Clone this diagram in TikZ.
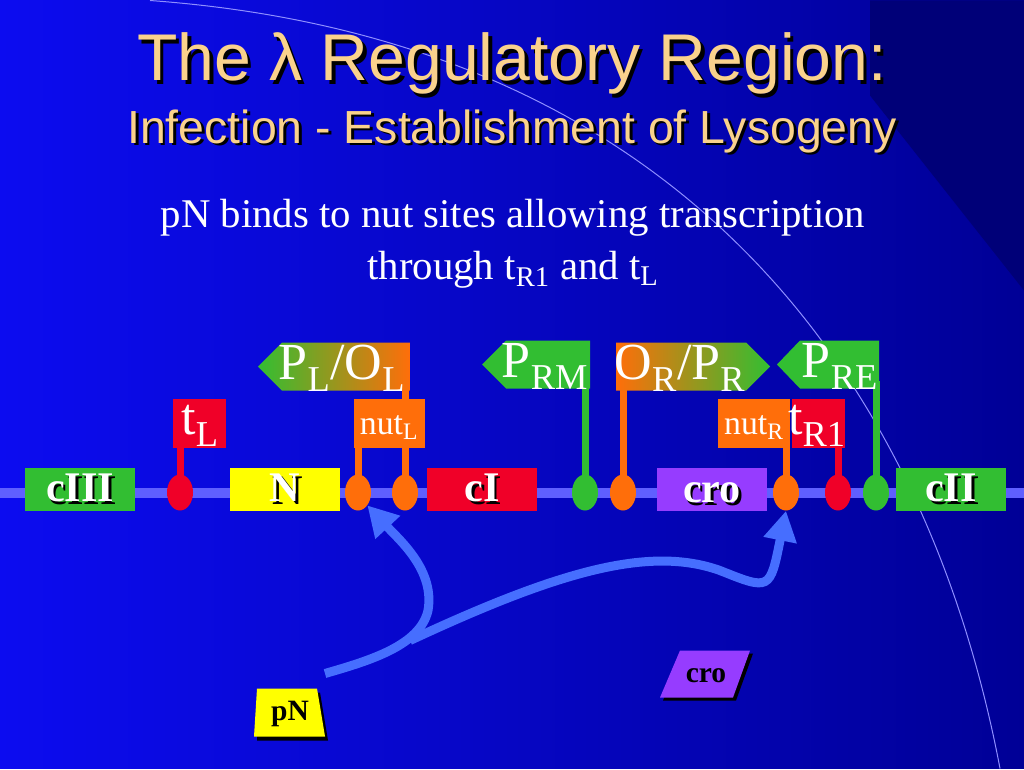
\documentclass[tikz,border=0pt]{standalone}
\usepackage{fontspec}
\setmainfont{Liberation Serif}
\newfontfamily\titlefont{Liberation Sans}
\usetikzlibrary{positioning,calc,arrows.meta,shapes.geometric}
\definecolor{bgblue}{RGB}{12,12,240}
\definecolor{bgnavy}{RGB}{0,0,150}
\definecolor{dnablue}{RGB}{95,95,255}
\definecolor{arrblue}{RGB}{70,110,255}
\definecolor{gengreen}{RGB}{50,190,50}
\definecolor{genred}{RGB}{240,0,40}
\definecolor{genorange}{RGB}{255,110,10}
\definecolor{genyellow}{RGB}{255,255,0}
\definecolor{genpurple}{RGB}{150,60,255}
\definecolor{titletan}{RGB}{250,210,140}
\newlength{\px}\setlength{\px}{0.025cm}
\tikzset{
  gene/.style={minimum width=110\px, minimum height=43\px, inner sep=0pt,
    font=\fontsize{30}{30}\selectfont\bfseries, text=white},
  site/.style={ellipse, minimum width=26\px, minimum height=36\px, inner sep=0pt},
  tag/.style={inner sep=0pt, text=white, font=\fontsize{37}{37}\selectfont},
  smalltag/.style={inner sep=0pt, text=white, font=\fontsize{24}{24}\selectfont},
  stem/.style={line width=7\px},
  pNarrow/.style={draw=arrblue, line width=9\px, -{Triangle[length=0.75cm,width=0.8cm]}},
}
\newcommand{\shadowtext}[3]{% colour, shadow offset, text
  \makebox[0pt][l]{\raisebox{-#2}{\hspace*{#2}\textcolor{black}{#3}}}\textcolor{#1}{#3}}
\begin{document}
\begin{tikzpicture}[x=0.025cm, y=-0.025cm]
% background
\shade[left color=bgblue, right color=bgnavy] (0,0) rectangle (1024,768);
\fill[bgnavy!80!black] (1024,290) -- (870,95) -- (870,0) -- (1024,0) -- cycle;
\draw[dnablue!70, line width=1\px] (150,0) .. controls (700,40) and (930,400) .. (1000,768);
\useasboundingbox (0,0) rectangle (1024,768);

% titles
\node[font=\titlefont\fontsize{47}{47}\selectfont] (title) at (512,65)
  {\shadowtext{titletan}{2.5pt}{The λ Regulatory Region:}};
\node[font=\titlefont\fontsize{33}{33}\selectfont] (subtitle) at (512,132)
  {\shadowtext{titletan}{2pt}{Infection - Establishment of Lysogeny}};
\node[text=white, align=center, font=\fontsize{29}{37}\selectfont] (caption) at (513,243)
  {pN binds to nut sites allowing transcription\\through t\textsubscript{R1} and t\textsubscript{L}};

% DNA
\draw[dnablue, line width=10\px] (0,492) -- (1024,492);

% genes
\node[gene, fill=gengreen] (cIII) at (80,489) {\shadowtext{white}{2pt}{cIII}};
\node[gene, fill=genyellow] (N) at (285,489) {\shadowtext{white}{2pt}{N}};
\node[gene, fill=genred] (cI) at (482,489) {\shadowtext{white}{2pt}{cI}};
\fill[genpurple] (657,467) rectangle (767,510);
\node[inner sep=0pt, font=\fontsize{30}{30}\selectfont\bfseries] (cro) at (712,494)
  {\shadowtext{white}{2pt}{cro}};
\node[gene, fill=gengreen] (cII) at (951,489) {\shadowtext{white}{2pt}{cII}};

% stems
\draw[stem, genred] (180,492) -- (180,440);
\draw[stem, genorange] (358,492) -- (358,440);
\draw[stem, genorange] (405,492) -- (405,385);
\draw[stem, gengreen] (585,492) -- (585,380);
\draw[stem, genorange] (623,492) -- (623,380);
\draw[stem, genorange] (786,492) -- (786,440);
\draw[stem, genred] (838,492) -- (838,440);
\draw[stem, gengreen] (876,492) -- (876,380);

% sites
\node[site, fill=genred] (tLsite) at (180,492) {};
\node[site, fill=genorange] (nutLa) at (358,492) {};
\node[site, fill=genorange] (nutLb) at (405,492) {};
\node[site, fill=gengreen] (PRMsite) at (585,492) {};
\node[site, fill=genorange] (ORsite) at (623,492) {};
\node[site, fill=genorange] (nutRsite) at (786,492) {};
\node[site, fill=genred] (tR1site) at (838,492) {};
\node[site, fill=gengreen] (PREsite) at (876,492) {};

% terminator and nut boxes
\fill[genred] (173,398) rectangle (226,447);
\node[tag] (tL) at (200,425) {t\textsubscript{L}};
\fill[genorange] (354,398) rectangle (425,447);
\node[smalltag] (nutL) at (389,427) {nut\textsubscript{L}};
\fill[genorange] (718,398) rectangle (790,447);
\node[smalltag] (nutR) at (754,427) {nut\textsubscript{R}};
\fill[genred] (792,398) rectangle (845,447);
\node[tag] (tR1) at (817,425) {t\textsubscript{R1}};

% promoter flags
\shade[left color=gengreen, right color=genorange]
  (258,366) -- (282,342) -- (410,342) -- (410,390) -- (282,390) -- cycle;
\node[tag] (PLOL) at (342,368) {P\textsubscript{L}/O\textsubscript{L}};
\fill[gengreen] (482,364) -- (506,340) -- (590,340) -- (590,388) -- (506,388) -- cycle;
\node[tag] (PRM) at (545,366) {P\textsubscript{RM}};
\shade[left color=genorange, right color=gengreen]
  (616,342) -- (746,342) -- (770,366) -- (746,390) -- (616,390) -- cycle;
\node[tag] (ORPR) at (680,368) {O\textsubscript{R}/P\textsubscript{R}};
\fill[gengreen] (777,364) -- (800,340) -- (879,340) -- (879,388) -- (800,388) -- cycle;
\node[tag] (PRE) at (840,366) {P\textsubscript{RE}};

% proteins
\fill[black] (260,692) -- (320,692) -- (328,740) -- (257,740) -- cycle;
\fill[genyellow] (257,688) -- (317,688) -- (325,736) -- (254,736) -- cycle;
\node[inner sep=0pt, font=\fontsize{21}{21}\selectfont\bfseries] (pN) at (290,713) {pN};
\fill[black] (683,653) -- (753,653) -- (736,700) -- (663,700) -- cycle;
\fill[genpurple] (680,650) -- (750,650) -- (733,697) -- (660,697) -- cycle;
\node[inner sep=0pt, font=\fontsize{21}{21}\selectfont\bfseries] (croprot) at (706,675) {cro};

% pN binding paths
\coordinate (pNstart) at (325,673);
\coordinate (fork) at (410,640);
\draw[pNarrow] (pNstart) .. controls (370,660) and (420,645) .. (428,610)
  .. controls (435,570) and (400,540) .. (nutLa.south east);
\draw[pNarrow] (fork) .. controls (560,570) and (650,545) .. (720,570)
  .. controls (770,590) .. (nutRsite.south);
\end{tikzpicture}
\end{document}
